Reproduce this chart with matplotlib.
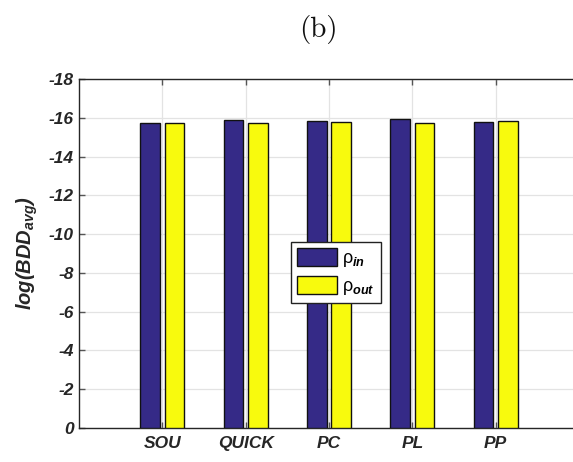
import matplotlib
matplotlib.use("Agg")
import matplotlib.pyplot as plt
from matplotlib.font_manager import FontProperties
import numpy as np

plt.rcParams['mathtext.fontset'] = 'custom'
plt.rcParams['mathtext.rm'] = 'Liberation Sans'
plt.rcParams['mathtext.it'] = 'Liberation Sans:italic:bold'
plt.rcParams['mathtext.bf'] = 'Liberation Sans:bold'

categories = ["SOU", "QUICK", "PC", "PL", "PP"]
rho_in = [-15.75, -15.87, -15.85, -15.92, -15.77]
rho_out = [-15.71, -15.75, -15.80, -15.75, -15.83]
y_ticks = [-18, -16, -14, -12, -10, -8, -6, -4, -2, 0]

c_in = "#352a87"
c_out = "#f8fa0d"

fig = plt.figure(figsize=(5.73, 4.62), dpi=100)
ax = fig.add_axes([79 / 573, 34 / 462, 500 / 573, 349 / 462])

x = np.arange(1, len(categories) + 1)
w = 0.235
off = 0.145
ax.bar(x - off, rho_in, w, color=c_in, edgecolor="#111111", linewidth=1.0,
       label=r"$\mathrm{\rho}_{in}$", zorder=3)
ax.bar(x + off, rho_out, w, color=c_out, edgecolor="#111111", linewidth=1.0,
       label=r"$\mathrm{\rho}_{out}$", zorder=3)

ax.set_xlim(0, 6)
ax.set_ylim(0, -18)
ax.set_xticks(x)
ax.set_xticklabels(categories)
ax.set_yticks(y_ticks)
ax.set_yticklabels([str(v) for v in y_ticks])

tick_font = FontProperties(family="Liberation Sans", weight="bold", style="italic", size=12.5)
for lab in ax.get_xticklabels() + ax.get_yticklabels():
    lab.set_fontproperties(tick_font)
    lab.set_color("#262626")

ax.tick_params(axis="both", direction="in", length=4, width=1.0, color="#555555",
               top=True, right=True)
ax.tick_params(axis="y", pad=4)
ax.tick_params(axis="x", pad=6)
ax.grid(True, color="#e3e3e3", linewidth=0.9, zorder=0)
ax.set_axisbelow(True)
for s in ax.spines.values():
    s.set_color("#262626")
    s.set_linewidth(1.0)

ax.set_ylabel(r"log(BDD$_{avg}$)", fontfamily="Liberation Sans", fontweight="bold",
              fontstyle="italic", fontsize=14.5, color="#262626")
ax.yaxis.set_label_coords(-0.078, 0.5)

fig.text(318 / 573, 1 - 29 / 462, "(b)", fontfamily="cmr10", fontsize=21,
         ha="center", va="center", color="#111111")

leg = ax.legend(loc="upper left", bbox_to_anchor=(291 / 573, 1 - 242 / 462),
                bbox_transform=fig.transFigure, borderaxespad=0,
                fancybox=False, framealpha=1, edgecolor="#222222",
                prop=dict(family="Liberation Sans", size=13),
                handlelength=2.2, handleheight=1.17, handletextpad=0.3,
                borderpad=0.33, labelspacing=0.39)
leg.get_frame().set_linewidth(1.0)

fig.savefig("out.png", dpi=100)
